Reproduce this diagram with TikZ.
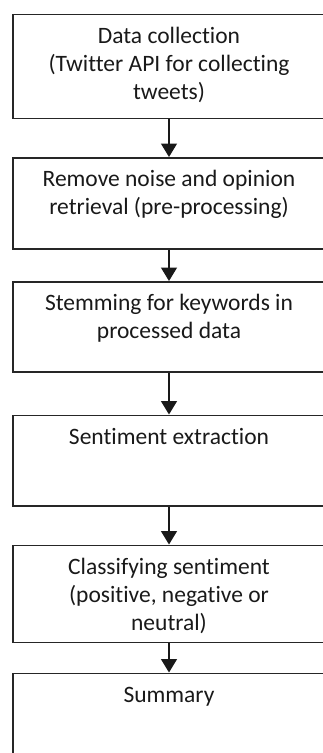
\documentclass[tikz,border=0pt]{standalone}
\usepackage{fontspec}
\setmainfont{Carlito}[Ligatures=NoCommon]
\usetikzlibrary{arrows.meta,positioning}

% top-aligned text inside a box of given height: first baseline 29pt below the top
\newcommand{\steptext}[2]{\parbox[t][#1][t]{300pt}{\centering\rule{0pt}{29pt}#2}}

\tikzset{
  stepbox/.style={draw=black!85, line width=1.5pt, inner sep=0pt,
    minimum width=312pt, anchor=north, font=\fontsize{23.5}{28}\selectfont,
    text=black!90},
  flow/.style={draw=black!90, line width=1.4pt,
    -{Triangle[width=16pt,length=13.5pt]}}
}

\begin{document}
\begin{tikzpicture}[x=1pt,y=1pt]
\useasboundingbox (0,0) rectangle (323,-753);
\clip (0,0) rectangle (323,-753);

\node[stepbox] (s1) at (169,-13.5)
  {\steptext{104pt}{Data collection\\(Twitter API for collecting\\tweets)}};
\node[stepbox] (s2) at (169,-157)
  {\steptext{91pt}{Remove noise and opinion\\retrieval (pre-processing)}};
\node[stepbox] (s3) at (169,-281)
  {\steptext{90pt}{Stemming for keywords in\\processed data}};
\node[stepbox] (s4) at (169,-414.5)
  {\steptext{90.5pt}{Sentiment extraction}};
\node[stepbox] (s5) at (169,-544.5)
  {\steptext{97pt}{Classifying sentiment\\(positive, negative or\\neutral)}};
\node[stepbox] (s6) at (169,-672.5)
  {\steptext{110pt}{Summary}};

\draw[flow] (s1.south) -- (s2.north);
\draw[flow] (s2.south) -- (s3.north);
\draw[flow] (s3.south) -- (s4.north);
\draw[flow] (s4.south) -- (s5.north);
\draw[flow] (s5.south) -- (s6.north);
\end{tikzpicture}
\end{document}
